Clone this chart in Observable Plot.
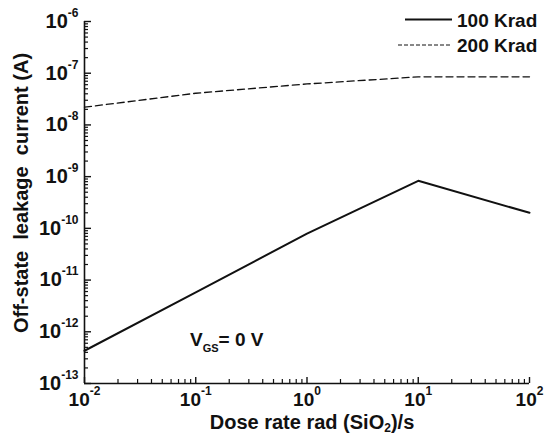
<!DOCTYPE html>
<html><head><meta charset="utf-8">
<script src="https://cdn.jsdelivr.net/npm/d3@7"></script>
<script src="https://cdn.jsdelivr.net/npm/@observablehq/plot@0.6"></script>
<style>
body{margin:0;background:#fff;}
#chart{width:545px;height:436px;}
svg{font-family:"Liberation Sans",Arial,sans-serif;}
</style></head><body><div id="chart"></div>
<script>
// Data
const doseRates = [0.01, 0.1, 1, 10, 100];               // rad(SiO2)/s
const leak100 = [4.3e-13, 5.8e-12, 7.9e-11, 8.3e-10, 2.0e-10]; // A, 100 Krad
const leak200 = [2.2e-8, 4.1e-8, 6.2e-8, 8.5e-8, 8.5e-8];      // A, 200 Krad
const seriesNames = ["100 Krad", "200 Krad"];
const xMajor = [1e-2, 1e-1, 1e0, 1e1, 1e2];
const yMajor = [1e-13, 1e-12, 1e-11, 1e-10, 1e-9, 1e-8, 1e-7, 1e-6];
const minorMult = [2, 3, 4, 5, 6, 7, 8, 9];
const xTitle = ["Dose rate rad (SiO", "2", ")/s"];
const yTitle = "Off-state  leakage  current (A)";
const annotation = ["V", "GS", "= 0 V"];

const minorOf = majors => majors.slice(0, -1).flatMap(m => minorMult.map(k => m * k));
const xMinor = minorOf(xMajor);
const yMinor = minorOf(yMajor);

const data100 = doseRates.map((x, i) => ({x, y: leak100[i]}));
const data200 = doseRates.map((x, i) => ({x, y: leak200[i]}));
const expFmt = d => "10^" + Math.round(Math.log10(d));

const ink = "#111";
const chart = Plot.plot({
  width: 545, height: 436,
  marginLeft: 84, marginRight: 16, marginTop: 21, marginBottom: 53,
  x: {type: "log", domain: [1e-2, 1e2]},
  y: {type: "log", domain: [1e-13, 1e-6]},
  style: {fontFamily: '"Liberation Sans", Arial, sans-serif', color: ink, background: "white"},
  marks: [
    Plot.axisX({ticks: xMinor, tickSize: -4, tickFormat: () => "", label: null, stroke: ink, strokeWidth: 1.2}),
    Plot.axisX({ticks: xMajor, tickSize: -6, tickFormat: () => "", label: null, stroke: ink, strokeWidth: 1.4}),
    Plot.axisX({ticks: xMajor, tickSize: 0, tickPadding: 9, tickFormat: expFmt, label: null, fontSize: 19, fontWeight: "bold"}),
    Plot.axisY({ticks: yMinor, tickSize: -4, tickFormat: () => "", label: null, stroke: ink, strokeWidth: 1.2}),
    Plot.axisY({ticks: yMajor, tickSize: -7, tickFormat: () => "", label: null, stroke: ink, strokeWidth: 1.4}),
    Plot.axisY({ticks: yMajor, tickSize: 0, tickPadding: 6, tickFormat: expFmt, label: null, fontSize: 20, fontWeight: "bold"}),
    Plot.ruleY([1e-13], {stroke: ink, strokeWidth: 1.6}),
    Plot.ruleX([1e-2], {stroke: ink, strokeWidth: 1.6}),
    Plot.line(data200, {x: "x", y: "y", stroke: ink, strokeWidth: 1.3, strokeDasharray: "7,4"}),
    Plot.line(data100, {x: "x", y: "y", stroke: ink, strokeWidth: 2})
  ]
});
document.getElementById("chart").append(chart);

const svg = d3.select(chart);
// superscript exponents on tick labels
svg.selectAll('g[aria-label$="tick label"] text').each(function() {
  const t = this.textContent;
  if (!t.startsWith("10^")) return;
  const exp = t.slice(3);
  const sel = d3.select(this);
  sel.text("");
  sel.append("tspan").text("10");
  sel.append("tspan").attr("dy", -11).attr("font-size", 12).text(exp);
});

// axis titles
const xt = svg.append("text").attr("x", 312).attr("y", 429).attr("text-anchor", "middle")
  .attr("font-size", 20).attr("font-weight", "bold").attr("fill", ink);
xt.append("tspan").text(xTitle[0]);
xt.append("tspan").attr("dy", 3).attr("font-size", 12).text(xTitle[1]);
xt.append("tspan").attr("dy", -3).text(xTitle[2]);

svg.append("text").attr("transform", "translate(28,193) rotate(-90)").attr("text-anchor", "middle")
  .attr("font-size", 20).attr("font-weight", "bold").attr("fill", ink)
  .attr("xml:space", "preserve").style("white-space", "pre").text(yTitle);

// legend
const lg = svg.append("g").attr("text-anchor", "start");
lg.append("line").attr("x1", 405).attr("x2", 452).attr("y1", 19.5).attr("y2", 19.5)
  .attr("stroke", ink).attr("stroke-width", 2);
lg.append("text").attr("x", 457).attr("y", 26.5).attr("font-size", 19).attr("font-weight", "bold")
  .attr("fill", ink).text(seriesNames[0]);
lg.append("line").attr("x1", 398).attr("x2", 452).attr("y1", 45).attr("y2", 45)
  .attr("stroke", ink).attr("stroke-width", 1).attr("stroke-dasharray", "4,2");
lg.append("text").attr("x", 457).attr("y", 52).attr("font-size", 19).attr("font-weight", "bold")
  .attr("fill", ink).text(seriesNames[1]);

// annotation V_GS = 0 V
const an = svg.append("text").attr("x", 190).attr("y", 346).attr("font-size", 19).attr("text-anchor", "start")
  .attr("font-weight", "bold").attr("fill", ink).attr("xml:space", "preserve").style("white-space", "pre");
an.append("tspan").text(annotation[0]);
an.append("tspan").attr("dy", 6).attr("font-size", 11).text(annotation[1]);
an.append("tspan").attr("dy", -6).text(annotation[2]);
</script></body></html>
